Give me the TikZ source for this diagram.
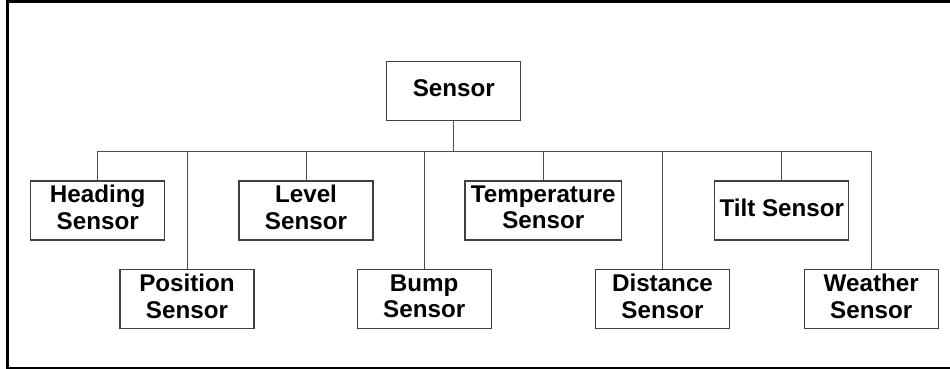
\documentclass[tikz,border=0pt]{standalone}
\usepackage{fontspec}
\setmainfont{Liberation Sans}
\begin{document}
\begin{tikzpicture}[x=1pt,y=-1pt,
  box/.style={draw=black!75, line width=1.2pt, fill=white, minimum width=134pt, minimum height=59pt,
    inner sep=0pt, align=center, text depth=6pt,
    font=\fontsize{24.2}{26.5}\selectfont\bfseries},
  conn/.style={draw=black!70, line width=1pt}]
\useasboundingbox (0,0) rectangle (950,369);
\draw[line width=2.2pt] (955,1.5) -- (7.5,1.5) -- (7.5,367.8) -- (955,367.8);
% nodes
\node[box] (sensor) at (453.8,91.3) {Sensor};
\node[box] (heading) at (97.7,210.4) {Heading\\Sensor};
\node[box] (level) at (306,210.4) {Level\\Sensor};
\node[box, minimum width=156.7pt] (temp) at (543.3,210.4) {Temperature\\Sensor};
\node[box] (tilt) at (781.8,210.4) {Tilt Sensor};
\node[box] (position) at (187,299) {Position\\Sensor};
\node[box] (bump) at (424.2,299) {Bump\\Sensor};
\node[box] (distance) at (662.5,299) {Distance\\Sensor};
\node[box] (weather) at (871.2,299) {Weather\\Sensor};
% bus
\coordinate (busL) at (97.7,151);
\coordinate (busR) at (871.2,151);
\draw[conn] (busL) -- (busR);
\draw[conn] (sensor.south) -- (sensor.south |- busL);
\foreach \n in {heading,level,temp,tilt,position,bump,distance,weather}
  \draw[conn] (\n.north) -- (\n.north |- busL);
\end{tikzpicture}
\end{document}
